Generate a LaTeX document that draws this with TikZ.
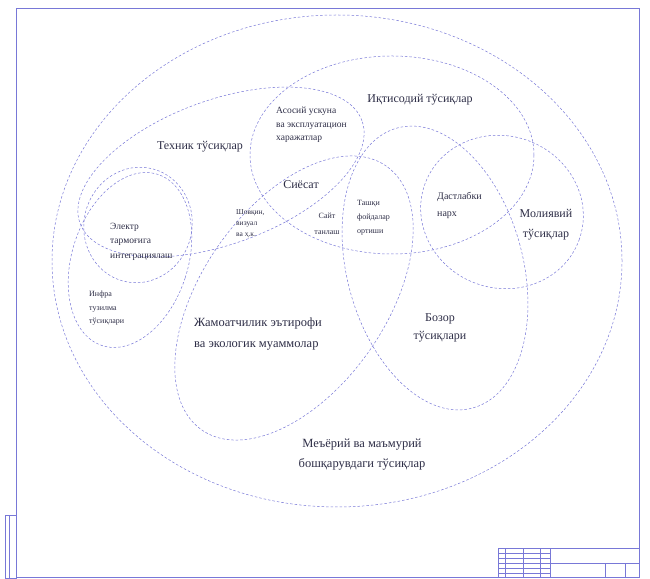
\documentclass[tikz,border=0pt]{standalone}
\usepackage{fontspec}
\setmainfont{Liberation Serif}
\usepackage{tikz}
\usetikzlibrary{positioning}

\definecolor{linecol}{RGB}{120,120,215}
\definecolor{txtcol}{RGB}{45,45,70}

\tikzset{
  barrier/.style={draw=linecol, line width=0.5pt, dash pattern=on 2.5pt off 2pt},
  frameline/.style={draw=linecol, line width=0.5pt},
  big/.style={text=txtcol, font=\fontsize{12}{20}\selectfont, align=center, inner sep=0pt},
  small/.style={text=txtcol, font=\fontsize{8}{13.5}\selectfont, align=left, inner sep=0pt, anchor=north west},
}

\begin{document}
\begin{tikzpicture}[x=1pt, y=1pt]

  \useasboundingbox (0,0) rectangle (650,578);

  % Drawing frame
  \draw[frameline] (16,1) rectangle (639,570);
  \draw[frameline] (5,0) rectangle (16,63);
  \draw[frameline] (9,0) -- (9,63);
  \draw[frameline] (498,30) -- (639,30);
  \foreach \gx in {498,505,523,540,550} {
    \draw[frameline] (\gx,0) -- (\gx,30);
  }
  \foreach \gy in {5,10,15,20,25} {
    \draw[frameline] (498,\gy) -- (550,\gy);
  }
  \draw[frameline] (550,15) -- (639,15);
  \draw[frameline] (605,0) -- (605,15);
  \draw[frameline] (625,0) -- (625,15);

  % Barrier sets
  \draw[barrier] (337,317) ellipse [x radius=285pt, y radius=246pt];
  \draw[barrier, rotate around={20:(221,406)}] (221,406) ellipse [x radius=150pt, y radius=72pt];
  \draw[barrier] (392,423) ellipse [x radius=142pt, y radius=99pt];
  \draw[barrier, rotate around={55:(294,280)}] (294,280) ellipse [x radius=161pt, y radius=92pt];
  \draw[barrier, rotate around={15:(435,310)}] (435,310) ellipse [x radius=88pt, y radius=145pt];
  \draw[barrier, rotate around={-20:(502,366)}] (502,366) ellipse [x radius=82pt, y radius=76pt];
  \draw[barrier, rotate around={-15:(138,353)}] (138,353) ellipse [x radius=54pt, y radius=58pt];
  \draw[barrier, rotate around={-18:(130,318)}] (130,318) ellipse [x radius=58pt, y radius=90pt];

  % Define nodes
  \node[big]                        (iqt)   at (420,478) {Иқтисодий тўсиқлар};
  \node[big]                        (tex)   at (200,431) {Техник тўсиқлар};
  \node[small, font=\fontsize{9.5}{13.5}\selectfont] (asos) at (276,471) {Асосий ускуна\\ва эксплуатацион\\харажатлар};
  \node[big]                        (siyos) at (301,393) {Сиёсат};
  \node[small, font=\fontsize{7.5}{11}\selectfont] (shov) at (236,369) {Шовқин,\\визуал\\ва ҳ.к.};
  \node[small, align=center, anchor=center, font=\fontsize{8}{16.5}\selectfont] (sayt) at (327,354) {Сайт\\танлаш};
  \node[small, font=\fontsize{8}{14}\selectfont] (tashqi) at (357,378) {Ташқи\\фойдалар\\ортиши};
  \node[small, font=\fontsize{10}{17}\selectfont] (dast) at (437,386) {Дастлабки\\нарх};
  \node[big]                        (mol)   at (546,353) {Молиявий\\тўсиқлар};
  \node[big, font=\fontsize{12}{18}\selectfont] (bozor) at (440,250) {Бозор\\тўсиқлари};
  \node[big, align=left, anchor=north west, font=\fontsize{12.5}{21}\selectfont] (jam) at (194,260) {Жамоатчилик эътирофи\\ва экологик муаммолар};
  \node[big, font=\fontsize{12.5}{20}\selectfont] (mey) at (362,123) {Меъёрий ва маъмурий\\бошқарувдаги тўсиқлар};
  \node[small, font=\fontsize{9.5}{14.5}\selectfont] (elek) at (110,355) {Электр\\тармоғига\\интеграциялаш};
  \node[small, font=\fontsize{8}{13.5}\selectfont] (infra) at (89,287) {Инфра\\тузилма\\тўсиқлари};

\end{tikzpicture}
\end{document}
